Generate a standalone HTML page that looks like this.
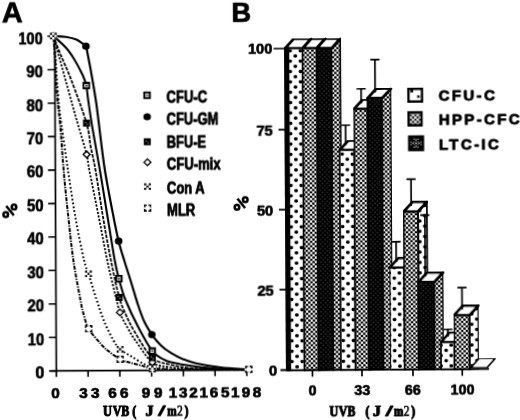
<!DOCTYPE html>
<html><head><meta charset="utf-8"><title>UVB dose response</title>
<style>html,body{margin:0;padding:0;background:#fff;}svg{display:block;}text{font-family:"Liberation Sans",sans-serif;font-weight:bold;fill:#000;stroke:#000;stroke-width:0.45px;stroke-linejoin:round;}.mono{font-family:"Liberation Mono",monospace;font-weight:bold;}</style></head><body>
<svg width="520" height="420" viewBox="0 0 520 420">
<defs>
<pattern id="dots" patternUnits="userSpaceOnUse" x="-1.91" y="3.70" width="10.28" height="10.36"><rect width="10.28" height="10.36" fill="#fff"/><rect x="3.34" y="3.43" width="3.6" height="3.5" rx="1.4" fill="#000"/><rect x="-1.80" y="-1.75" width="3.6" height="3.5" rx="1.4" fill="#000"/><rect x="8.48" y="-1.75" width="3.6" height="3.5" rx="1.4" fill="#000"/><rect x="-1.80" y="8.61" width="3.6" height="3.5" rx="1.4" fill="#000"/><rect x="8.48" y="8.61" width="3.6" height="3.5" rx="1.4" fill="#000"/></pattern>
<pattern id="chk" patternUnits="userSpaceOnUse" x="0.98" y="2.90" width="4.56" height="4.5"><rect width="4.56" height="4.5" fill="#fff"/><rect x="-1.22" y="-1.22" width="2.44" height="2.44" rx="0.55" fill="#000"/><rect x="3.34" y="-1.22" width="2.44" height="2.44" rx="0.55" fill="#000"/><rect x="-1.22" y="3.28" width="2.44" height="2.44" rx="0.55" fill="#000"/><rect x="3.34" y="3.28" width="2.44" height="2.44" rx="0.55" fill="#000"/><rect x="1.06" y="1.03" width="2.44" height="2.44" rx="0.55" fill="#000"/></pattern>
<pattern id="dark" patternUnits="userSpaceOnUse" x="1.2" y="0.8" width="4.56" height="4.5"><rect width="4.56" height="4.5" fill="#000"/><rect x="-0.70" y="-0.70" width="1.4" height="1.4" fill="#fff" fill-opacity="0.2"/><rect x="3.86" y="-0.70" width="1.4" height="1.4" fill="#fff" fill-opacity="0.2"/><rect x="-0.70" y="3.80" width="1.4" height="1.4" fill="#fff" fill-opacity="0.2"/><rect x="3.86" y="3.80" width="1.4" height="1.4" fill="#fff" fill-opacity="0.2"/><rect x="1.58" y="1.55" width="1.4" height="1.4" fill="#fff" fill-opacity="0.2"/></pattern>
<filter id="soft" x="-2%" y="-2%" width="104%" height="104%"><feGaussianBlur stdDeviation="0.42"/></filter>
</defs>
<rect width="520" height="420" fill="#fff"/>
<g>
<g id="chartA" transform="rotate(-0.28 100 203)" filter="url(#soft)">
<text x="2.7" y="22.0" font-size="29" style="stroke-width:0.7px">A</text>
<path d="M55.5 35.0 V376.7 M49.5 370.7 H249" stroke="#000" stroke-width="1.7" fill="none"/>
<path d="M48.2 370.70 H55.5 M48.2 337.23 H55.5 M48.2 303.76 H55.5 M48.2 270.29 H55.5 M48.2 236.82 H55.5 M48.2 203.35 H55.5 M48.2 169.88 H55.5 M48.2 136.41 H55.5 M48.2 102.94 H55.5 M48.2 69.47 H55.5 M48.2 36.00 H55.5 M87.25 370.7 V376.7 M119.00 370.7 V376.7 M150.75 370.7 V376.7 M182.50 370.7 V376.7 M214.25 370.7 V376.7 M246.00 370.7 V376.7 " stroke="#000" stroke-width="1.6" fill="none"/>
<text x="34.50" y="378.30" font-size="16" textLength="9.0" lengthAdjust="spacingAndGlyphs" style="stroke-width:0.6px">0</text>
<text x="26.90" y="344.83" font-size="16" textLength="16.6" lengthAdjust="spacingAndGlyphs" style="stroke-width:0.6px">10</text>
<text x="26.90" y="311.36" font-size="16" textLength="16.6" lengthAdjust="spacingAndGlyphs" style="stroke-width:0.6px">20</text>
<text x="26.90" y="277.89" font-size="16" textLength="16.6" lengthAdjust="spacingAndGlyphs" style="stroke-width:0.6px">30</text>
<text x="26.90" y="244.42" font-size="16" textLength="16.6" lengthAdjust="spacingAndGlyphs" style="stroke-width:0.6px">40</text>
<text x="26.90" y="210.95" font-size="16" textLength="16.6" lengthAdjust="spacingAndGlyphs" style="stroke-width:0.6px">50</text>
<text x="26.90" y="177.48" font-size="16" textLength="16.6" lengthAdjust="spacingAndGlyphs" style="stroke-width:0.6px">60</text>
<text x="26.90" y="144.01" font-size="16" textLength="16.6" lengthAdjust="spacingAndGlyphs" style="stroke-width:0.6px">70</text>
<text x="26.90" y="110.54" font-size="16" textLength="16.6" lengthAdjust="spacingAndGlyphs" style="stroke-width:0.6px">80</text>
<text x="26.90" y="77.07" font-size="16" textLength="16.6" lengthAdjust="spacingAndGlyphs" style="stroke-width:0.6px">90</text>
<text x="19.30" y="43.60" font-size="16" textLength="24.2" lengthAdjust="spacingAndGlyphs" style="stroke-width:0.6px">100</text>
<g fill="none" stroke="#000"><circle cx="5.70" cy="214.16" r="2.3" stroke-width="2.5"/><circle cx="14.00" cy="206.66" r="2.3" stroke-width="2.5"/><path d="M6.20 205.46 L13.80 215.06" stroke-width="2.5" stroke-linecap="butt"/></g>
<text x="54.5" y="397.5" font-size="15.4" text-anchor="middle" style="stroke-width:0.7px">0</text>
<text x="82.5" y="397.5" font-size="15.4" text-anchor="middle" style="stroke-width:0.7px">3</text>
<text x="94.2" y="397.5" font-size="15.4" text-anchor="middle" style="stroke-width:0.7px">3</text>
<text x="111.5" y="397.5" font-size="15.4" text-anchor="middle" style="stroke-width:0.7px">6</text>
<text x="123.3" y="397.5" font-size="15.4" text-anchor="middle" style="stroke-width:0.7px">6</text>
<text x="145" y="397.5" font-size="15.4" text-anchor="middle" style="stroke-width:0.7px">9</text>
<text x="157.3" y="397.5" font-size="15.4" text-anchor="middle" style="stroke-width:0.7px">9</text>
<text x="172" y="397.5" font-size="15.4" text-anchor="middle" style="stroke-width:0.7px">1</text>
<text x="182.3" y="397.5" font-size="15.4" text-anchor="middle" style="stroke-width:0.7px">3</text>
<text x="192.5" y="397.5" font-size="15.4" text-anchor="middle" style="stroke-width:0.7px">2</text>
<text x="202.7" y="397.5" font-size="15.4" text-anchor="middle" style="stroke-width:0.7px">1</text>
<text x="213" y="397.5" font-size="15.4" text-anchor="middle" style="stroke-width:0.7px">6</text>
<text x="224.3" y="397.5" font-size="15.4" text-anchor="middle" style="stroke-width:0.7px">5</text>
<text x="234.3" y="397.5" font-size="15.4" text-anchor="middle" style="stroke-width:0.7px">1</text>
<text x="245" y="397.5" font-size="15.4" text-anchor="middle" style="stroke-width:0.7px">9</text>
<text x="256" y="397.5" font-size="15.4" text-anchor="middle" style="stroke-width:0.7px">8</text>
<g font-family="Liberation Serif" font-size="13.6" style="font-family:'Liberation Serif',serif;stroke-width:0.7px"><text x="102.05" y="416.2" textLength="8.9" lengthAdjust="spacingAndGlyphs" style="font-family:'Liberation Serif',serif;stroke-width:1.0px">U</text><text x="111.65" y="416.2" textLength="8.7" lengthAdjust="spacingAndGlyphs" style="font-family:'Liberation Serif',serif;stroke-width:1.0px">V</text><text x="120.30" y="416.2" textLength="8.0" lengthAdjust="spacingAndGlyphs" style="font-family:'Liberation Serif',serif;stroke-width:1.0px">B</text><text x="131.30" y="416.2" textLength="4.0" lengthAdjust="spacingAndGlyphs" style="font-family:'Liberation Serif',serif;stroke-width:1.0px">(</text><text x="144.60" y="416.2" textLength="8.0" lengthAdjust="spacingAndGlyphs" style="font-family:'Liberation Serif',serif;stroke-width:1.0px">J</text><text x="157.40" y="416.2" textLength="6.6" lengthAdjust="spacingAndGlyphs" style="font-family:'Liberation Serif',serif;stroke-width:1.0px">/</text><text x="166.30" y="416.2" textLength="9.4" lengthAdjust="spacingAndGlyphs" style="font-family:'Liberation Serif',serif;stroke-width:1.0px">m</text><text x="176.00" y="416.2" textLength="5.8" lengthAdjust="spacingAndGlyphs" style="font-family:'Liberation Serif',serif;font-weight:normal;stroke-width:0.6px">2</text><text x="183.50" y="416.2" textLength="4.0" lengthAdjust="spacingAndGlyphs" style="font-family:'Liberation Serif',serif;stroke-width:1.0px">)</text></g>
<path d="M54.2 35.8 C54.5 39.8 55.4 52.6 55.8 60.0 C56.2 67.4 56.0 72.5 56.5 80.0 C57.0 87.5 57.8 97.5 58.5 105.0 C59.2 112.5 59.7 114.2 60.6 125.0 C61.5 135.8 62.5 154.5 63.8 170.0 C65.0 185.5 66.8 203.0 68.4 218.0 C70.0 233.0 71.2 246.3 73.1 260.0 C75.0 273.7 78.4 291.3 80.0 300.0 C81.6 308.7 81.2 307.2 82.5 312.0 C83.8 316.8 85.2 323.5 88.1 328.8 C91.0 334.0 96.8 340.0 100.0 343.8 C103.2 347.5 104.3 348.4 107.5 351.0 C110.7 353.6 115.7 357.4 119.4 359.4 C123.2 361.4 126.2 361.9 130.0 363.0 C133.8 364.1 138.9 365.3 142.5 366.2 C146.1 367.2 145.2 367.8 151.5 368.5 C157.8 369.2 164.1 369.9 180.0 370.2 C195.9 370.5 235.8 370.3 247.0 370.3" stroke="#000" stroke-width="2.0" fill="none" stroke-dasharray="4 1.2 1.3 1.2"/>
<path d="M54.2 35.8 C54.6 39.8 56.0 52.6 56.5 60.0 C57.0 67.4 57.0 72.5 57.5 80.0 C58.0 87.5 58.8 97.5 59.5 105.0 C60.2 112.5 60.5 114.2 61.9 125.0 C63.3 135.8 65.9 154.7 68.1 170.0 C70.3 185.3 72.7 202.0 75.3 217.0 C77.9 232.0 81.6 250.5 83.8 260.0 C85.9 269.5 86.0 267.1 88.1 273.8 C90.2 280.4 93.6 292.0 96.2 300.0 C98.9 308.0 101.0 315.2 103.8 321.9 C106.5 328.6 109.9 335.4 112.5 340.0 C115.1 344.6 116.5 346.7 119.4 349.4 C122.3 352.1 126.2 353.9 130.0 356.2 C133.8 358.6 138.9 362.0 142.5 363.8 C146.1 365.5 145.2 366.0 151.5 367.0 C157.8 368.0 164.1 369.4 180.0 370.0 C195.9 370.6 235.8 370.2 247.0 370.3" stroke="#000" stroke-width="1.95" fill="none" stroke-dasharray="1.7 2.2"/>
<path d="M54.2 35.8 C55.2 39.3 58.0 49.6 60.0 57.0 C62.0 64.4 64.1 72.0 66.2 80.0 C68.4 88.0 70.9 97.5 72.9 105.0 C74.9 112.5 76.2 116.8 78.5 125.0 C80.8 133.2 85.1 146.9 86.9 154.4 C88.7 161.9 87.4 159.4 89.4 170.0 C91.4 180.6 96.0 203.0 98.9 218.0 C101.8 233.0 104.6 248.5 106.9 260.0 C109.2 271.5 110.9 278.2 113.0 287.0 C115.1 295.8 117.0 305.5 119.4 312.5 C121.8 319.5 124.9 324.0 127.5 328.8 C130.1 333.5 131.0 335.4 135.0 341.0 C139.0 346.6 145.7 358.1 151.5 362.5 C157.3 366.9 162.8 366.3 170.0 367.5 C177.2 368.7 182.2 369.0 195.0 369.5 C207.8 370.0 238.3 370.2 247.0 370.3" stroke="#000" stroke-width="1.75" fill="none" stroke-dasharray="2.2 1.5"/>
<path d="M54.2 35.8 C55.5 39.2 59.0 48.6 62.0 56.0 C65.0 63.4 67.8 68.8 71.9 80.0 C76.1 91.2 83.7 111.9 86.9 123.1 C90.1 134.3 89.5 139.2 91.0 147.0 C92.5 154.8 93.6 158.2 95.6 170.0 C97.6 181.8 100.6 203.0 103.1 218.0 C105.6 233.0 108.0 246.8 110.6 260.0 C113.2 273.2 116.3 288.5 118.8 297.5 C121.2 306.5 122.5 308.2 125.0 314.0 C127.5 319.8 129.6 324.7 134.0 332.0 C138.4 339.3 145.5 352.5 151.5 358.0 C157.5 363.5 162.8 363.2 170.0 365.0 C177.2 366.8 182.2 368.1 195.0 369.0 C207.8 369.9 238.3 370.1 247.0 370.3" stroke="#000" stroke-width="1.75" fill="none" stroke-dasharray="3.6 1.2"/>
<path d="M54.2 35.8 C56.3 37.8 63.2 43.6 66.7 47.5 C70.2 51.4 72.2 54.6 75.0 59.2 C77.8 63.8 81.3 70.6 83.3 75.0 C85.3 79.4 86.0 81.4 86.9 85.6 C87.8 89.8 87.7 92.9 88.7 100.0 C89.7 107.1 90.9 116.3 92.8 128.0 C94.7 139.7 97.6 155.5 100.0 170.0 C102.4 184.5 104.8 200.0 107.2 215.0 C109.7 230.0 112.5 249.4 114.4 260.0 C116.3 270.6 116.7 272.1 118.5 278.8 C120.3 285.4 121.8 292.0 125.0 300.0 C128.2 308.0 133.1 318.5 137.5 327.0 C141.9 335.5 147.5 346.0 151.5 351.2 C155.5 356.5 158.2 356.9 161.2 358.8 C164.3 360.6 164.4 361.1 170.0 362.5 C175.6 363.9 186.7 365.8 195.0 367.0 C203.3 368.2 211.3 368.9 220.0 369.5 C228.7 370.1 242.5 370.2 247.0 370.3" stroke="#000" stroke-width="2.05" fill="none"/>
<path d="M54.2 35.8 C56.3 35.9 63.0 36.1 66.7 36.7 C70.5 37.3 73.9 38.1 76.7 39.2 C79.5 40.3 81.6 42.1 83.3 43.3 C85.0 44.5 85.7 43.7 86.7 46.2 C87.7 48.7 88.1 52.7 89.2 58.3 C90.3 63.9 91.8 72.2 93.1 80.0 C94.4 87.8 96.0 97.5 97.0 105.0 C98.0 112.5 98.1 114.2 99.4 125.0 C100.7 135.8 102.7 155.0 105.0 170.0 C107.3 185.0 110.8 203.1 113.1 215.0 C115.3 226.9 116.7 233.8 118.5 241.2 C120.3 248.8 121.8 253.5 123.8 260.0 C125.7 266.5 127.7 272.5 130.0 280.0 C132.3 287.5 135.2 297.9 137.5 305.0 C139.8 312.1 141.7 317.5 144.0 322.5 C146.3 327.5 148.6 330.9 151.2 334.8 C153.9 338.6 156.9 342.4 160.0 345.5 C163.1 348.6 166.3 350.9 170.0 353.2 C173.7 355.5 177.8 357.8 182.0 359.5 C186.2 361.2 188.7 362.3 195.0 363.7 C201.3 365.1 211.3 366.9 220.0 368.0 C228.7 369.1 242.5 369.9 247.0 370.3" stroke="#000" stroke-width="2.15" fill="none"/>
<rect x="85.2" y="325.9" width="5.8" height="5.6" fill="#fff" stroke="#000" stroke-width="1.6"/><rect x="87.3" y="324.8" width="1.6" height="8" fill="#fff"/><rect x="84.1" y="327.9" width="8" height="1.6" fill="#fff"/><rect x="116.5" y="356.6" width="5.8" height="5.6" fill="#fff" stroke="#000" stroke-width="1.6"/><rect x="118.6" y="355.4" width="1.6" height="8" fill="#fff"/><rect x="115.4" y="358.6" width="8" height="1.6" fill="#fff"/><rect x="148.6" y="366.2" width="5.8" height="5.6" fill="#fff" stroke="#000" stroke-width="1.6"/><rect x="150.7" y="365.0" width="1.6" height="8" fill="#fff"/><rect x="147.5" y="368.2" width="8" height="1.6" fill="#fff"/><rect x="84.7" y="270.4" width="6.8" height="6.6" fill="#fff"/><rect x="84.65" y="270.45" width="2.3" height="2.2" fill="#000"/><rect x="84.65" y="274.85" width="2.3" height="2.2" fill="#000"/><rect x="86.95" y="272.65" width="2.3" height="2.2" fill="#000"/><rect x="89.25" y="270.45" width="2.3" height="2.2" fill="#000"/><rect x="89.25" y="274.85" width="2.3" height="2.2" fill="#000"/><rect x="116.0" y="346.1" width="6.8" height="6.6" fill="#fff"/><rect x="115.95" y="346.10" width="2.3" height="2.2" fill="#000"/><rect x="115.95" y="350.50" width="2.3" height="2.2" fill="#000"/><rect x="118.25" y="348.30" width="2.3" height="2.2" fill="#000"/><rect x="120.55" y="346.10" width="2.3" height="2.2" fill="#000"/><rect x="120.55" y="350.50" width="2.3" height="2.2" fill="#000"/><rect x="148.1" y="363.7" width="6.8" height="6.6" fill="#fff"/><rect x="148.05" y="363.70" width="2.3" height="2.2" fill="#000"/><rect x="148.05" y="368.10" width="2.3" height="2.2" fill="#000"/><rect x="150.35" y="365.90" width="2.3" height="2.2" fill="#000"/><rect x="152.65" y="363.70" width="2.3" height="2.2" fill="#000"/><rect x="152.65" y="368.10" width="2.3" height="2.2" fill="#000"/><path d="M83.6 154.4 L86.9 151.1 L90.2 154.4 L86.9 157.7 Z" fill="#fff" stroke="#000" stroke-width="1.5"/><path d="M116.1 312.5 L119.4 309.2 L122.7 312.5 L119.4 315.8 Z" fill="#fff" stroke="#000" stroke-width="1.5"/><path d="M148.2 362.5 L151.5 359.2 L154.8 362.5 L151.5 365.8 Z" fill="#fff" stroke="#000" stroke-width="1.5"/><rect x="83.4" y="119.6" width="7" height="7" fill="#000"/><rect x="85.5" y="121.9" width="1.1" height="1" fill="#fff" fill-opacity=".55"/><rect x="87.4" y="123.5" width="1.1" height="1" fill="#fff" fill-opacity=".55"/><rect x="115.2" y="294.0" width="7" height="7" fill="#000"/><rect x="117.3" y="296.3" width="1.1" height="1" fill="#fff" fill-opacity=".55"/><rect x="119.2" y="297.9" width="1.1" height="1" fill="#fff" fill-opacity=".55"/><rect x="148.0" y="354.5" width="7" height="7" fill="#000"/><rect x="150.1" y="356.8" width="1.1" height="1" fill="#fff" fill-opacity=".55"/><rect x="152.0" y="358.4" width="1.1" height="1" fill="#fff" fill-opacity=".55"/><rect x="84.2" y="82.9" width="5.4" height="5.4" fill="#fff" stroke="#000" stroke-width="2.1"/><rect x="86.0" y="84.7" width="1.8" height="1.8" fill="#000"/><rect x="115.8" y="276.1" width="5.4" height="5.4" fill="#fff" stroke="#000" stroke-width="2.1"/><rect x="117.6" y="277.9" width="1.8" height="1.8" fill="#000"/><rect x="148.8" y="348.6" width="5.4" height="5.4" fill="#fff" stroke="#000" stroke-width="2.1"/><rect x="150.6" y="350.4" width="1.8" height="1.8" fill="#000"/><ellipse cx="86.7" cy="46.2" rx="3.8" ry="3.6" fill="#000"/><ellipse cx="118.5" cy="241.2" rx="3.8" ry="3.6" fill="#000"/><ellipse cx="151.2" cy="334.8" rx="3.8" ry="3.6" fill="#000"/><path d="M50.9 35.8 L54.2 32.5 L57.5 35.8 L54.2 39.1 Z" fill="#fff" stroke="#000" stroke-width="1.5"/><rect x="50.8" y="32.5" width="6.8" height="6.6" fill="#fff"/><rect x="50.75" y="32.50" width="2.3" height="2.2" fill="#000"/><rect x="50.75" y="36.90" width="2.3" height="2.2" fill="#000"/><rect x="53.05" y="34.70" width="2.3" height="2.2" fill="#000"/><rect x="55.35" y="32.50" width="2.3" height="2.2" fill="#000"/><rect x="55.35" y="36.90" width="2.3" height="2.2" fill="#000"/><rect x="245.1" y="367.4" width="5.8" height="5.6" fill="#fff" stroke="#000" stroke-width="1.6"/><rect x="247.2" y="366.2" width="1.6" height="8" fill="#fff"/><rect x="244.0" y="369.4" width="8" height="1.6" fill="#fff"/>
<rect x="144.9" y="92.8" width="5.4" height="5.4" fill="#fff" stroke="#000" stroke-width="2.1"/><rect x="146.7" y="94.6" width="1.8" height="1.8" fill="#000"/>
<text x="167.10000000000002" y="102.6" font-size="16" textLength="40.6" lengthAdjust="spacingAndGlyphs" style="stroke-width:0.85px">CFU-C</text>
<ellipse cx="147.6" cy="117.0" rx="3.8" ry="3.6" fill="#000"/>
<text x="167.10000000000002" y="125" font-size="16" textLength="51.6" lengthAdjust="spacingAndGlyphs" style="stroke-width:0.85px">CFU-GM</text>
<rect x="144.1" y="138.5" width="7" height="7" fill="#000"/><rect x="146.2" y="140.8" width="1.1" height="1" fill="#fff" fill-opacity=".55"/><rect x="148.1" y="142.4" width="1.1" height="1" fill="#fff" fill-opacity=".55"/>
<text x="167.10000000000002" y="147.8" font-size="16" textLength="39.1" lengthAdjust="spacingAndGlyphs" style="stroke-width:0.85px">BFU-E</text>
<path d="M144.3 162.5 L147.6 159.2 L150.9 162.5 L147.6 165.8 Z" fill="#fff" stroke="#000" stroke-width="1.5"/>
<text x="167.10000000000002" y="170.3" font-size="16" textLength="53.6" lengthAdjust="spacingAndGlyphs" style="stroke-width:0.85px">CFU-mix</text>
<rect x="144.2" y="183.5" width="6.8" height="6.6" fill="#fff"/><rect x="144.15" y="183.50" width="2.3" height="2.2" fill="#000"/><rect x="144.15" y="187.90" width="2.3" height="2.2" fill="#000"/><rect x="146.45" y="185.70" width="2.3" height="2.2" fill="#000"/><rect x="148.75" y="183.50" width="2.3" height="2.2" fill="#000"/><rect x="148.75" y="187.90" width="2.3" height="2.2" fill="#000"/>
<text x="167.10000000000002" y="194.2" font-size="16" textLength="37.6" lengthAdjust="spacingAndGlyphs" style="stroke-width:0.85px">Con A</text>
<rect x="144.7" y="205.5" width="5.8" height="5.6" fill="#fff" stroke="#000" stroke-width="1.6"/><rect x="146.8" y="204.3" width="1.6" height="8" fill="#fff"/><rect x="143.6" y="207.5" width="8" height="1.6" fill="#fff"/>
<text x="167.10000000000002" y="216.2" font-size="16" textLength="28.1" lengthAdjust="spacingAndGlyphs" style="stroke-width:0.85px">MLR</text>
</g>
<g id="chartB" transform="rotate(-0.34 380 210)">
<g filter="url(#soft)">
<text x="232.4" y="21.0" font-size="27.4" style="stroke-width:0.7px">B</text>
<text x="249.00" y="53.30" font-size="14.3" textLength="24.2" lengthAdjust="spacingAndGlyphs" style="stroke-width:0.65px">100</text>
<text x="256.90" y="134.50" font-size="14.3" textLength="16.3" lengthAdjust="spacingAndGlyphs" style="stroke-width:0.65px">75</text>
<text x="256.90" y="214.50" font-size="14.3" textLength="16.3" lengthAdjust="spacingAndGlyphs" style="stroke-width:0.65px">50</text>
<text x="256.90" y="294.50" font-size="14.3" textLength="16.3" lengthAdjust="spacingAndGlyphs" style="stroke-width:0.65px">25</text>
<text x="268.00" y="374.80" font-size="14.3" textLength="8.2" lengthAdjust="spacingAndGlyphs" style="stroke-width:0.65px">0</text>
<path d="M274.5 48 H286 M279 129.2 H286 M279 209.2 H286 M279 289.2 H286" stroke="#000" stroke-width="1.7" fill="none"/>
<g fill="none" stroke="#000"><circle cx="237.00" cy="206.40" r="2.3" stroke-width="2.5"/><circle cx="245.30" cy="198.90" r="2.3" stroke-width="2.5"/><path d="M237.50 197.70 L245.10 207.30" stroke-width="2.5" stroke-linecap="butt"/></g>
<path d="M279.5 369.5 H488" stroke="#000" stroke-width="2" fill="none"/>
<path d="M311.5 369.5 V376.3 M361 369.5 V376.3 M412 369.5 V376.3 M461.3 369.5 V376.3" stroke="#000" stroke-width="1.7" fill="none"/>
<text x="311.5" y="394.5" font-size="14.3" text-anchor="middle" style="stroke-width:0.65px">0</text>
<text x="361.3" y="394.5" font-size="14.3" text-anchor="middle" style="stroke-width:0.65px">33</text>
<text x="411.7" y="394.5" font-size="14.3" text-anchor="middle" style="stroke-width:0.65px">66</text>
<text x="461.5" y="394.5" font-size="14.3" text-anchor="middle" style="stroke-width:0.65px">100</text>
<g font-family="Liberation Serif" font-size="13.6" style="font-family:'Liberation Serif',serif;stroke-width:0.7px"><text x="328.35" y="416.2" textLength="8.9" lengthAdjust="spacingAndGlyphs" style="font-family:'Liberation Serif',serif;stroke-width:1.0px">U</text><text x="337.45" y="416.2" textLength="8.7" lengthAdjust="spacingAndGlyphs" style="font-family:'Liberation Serif',serif;stroke-width:1.0px">V</text><text x="346.30" y="416.2" textLength="8.0" lengthAdjust="spacingAndGlyphs" style="font-family:'Liberation Serif',serif;stroke-width:1.0px">B</text><text x="364.20" y="416.2" textLength="4.0" lengthAdjust="spacingAndGlyphs" style="font-family:'Liberation Serif',serif;stroke-width:1.0px">(</text><text x="371.70" y="416.2" textLength="8.0" lengthAdjust="spacingAndGlyphs" style="font-family:'Liberation Serif',serif;stroke-width:1.0px">J</text><text x="384.70" y="416.2" textLength="6.6" lengthAdjust="spacingAndGlyphs" style="font-family:'Liberation Serif',serif;stroke-width:1.0px">/</text><text x="392.70" y="416.2" textLength="9.4" lengthAdjust="spacingAndGlyphs" style="font-family:'Liberation Serif',serif;stroke-width:1.0px">m</text><text x="402.50" y="416.2" textLength="5.8" lengthAdjust="spacingAndGlyphs" style="font-family:'Liberation Serif',serif;font-weight:normal;stroke-width:0.6px">2</text><text x="410.10" y="416.2" textLength="4.0" lengthAdjust="spacingAndGlyphs" style="font-family:'Liberation Serif',serif;stroke-width:1.0px">)</text></g>
</g>
<path d="M303.5 48.0 L312.5 38.3 V369.0 L303.5 369.5 Z" fill="#fff"/><path d="M303.5 48.0 L312.5 38.3 V369.0 L303.5 369.5 Z" fill="none" stroke="#000" stroke-width="1.7" stroke-linejoin="round" filter="url(#soft)"/><path d="M285.9 48.0 L294.9 38.3 H312.5 L303.5 48.0 Z" fill="#fff" stroke="#000" stroke-width="2.8" stroke-linejoin="round" filter="url(#soft)"/><path d="M285.9 48.0 H303.5 V369.5 H285.9 Z" fill="url(#dots)"/><path d="M285.9 48.0 H303.5 V369.5 H285.9 Z" fill="none" stroke="#000" stroke-width="1.7" stroke-linejoin="round" filter="url(#soft)"/>
<path d="M317.6 48.0 L326.6 38.3 V369.0 L317.6 369.5 Z" fill="url(#dots)"/><path d="M317.6 48.0 L326.6 38.3 V369.0 L317.6 369.5 Z" fill="none" stroke="#000" stroke-width="1.7" stroke-linejoin="round" filter="url(#soft)"/><path d="M303.5 48.0 L312.5 38.3 H326.6 L317.6 48.0 Z" fill="#fff" stroke="#000" stroke-width="2.8" stroke-linejoin="round" filter="url(#soft)"/><path d="M303.5 48.0 H317.6 V369.5 H303.5 Z" fill="url(#chk)"/><path d="M303.5 48.0 H317.6 V369.5 H303.5 Z" fill="none" stroke="#000" stroke-width="1.7" stroke-linejoin="round" filter="url(#soft)"/>
<path d="M332.3 48.0 L341.3 38.3 V369.0 L332.3 369.5 Z" fill="url(#chk)"/><path d="M332.3 48.0 L341.3 38.3 V369.0 L332.3 369.5 Z" fill="none" stroke="#000" stroke-width="1.7" stroke-linejoin="round" filter="url(#soft)"/><path d="M317.6 48.0 L326.6 38.3 H341.3 L332.3 48.0 Z" fill="#fff" stroke="#000" stroke-width="2.8" stroke-linejoin="round" filter="url(#soft)"/><path d="M317.6 48.0 H332.3 V369.5 H317.6 Z" fill="url(#dark)"/><path d="M317.6 48.0 H332.3 V369.5 H317.6 Z" fill="none" stroke="#000" stroke-width="1.7" stroke-linejoin="round" filter="url(#soft)"/>
<path d="M354.6 150.0 L363.6 140.3 V369.0 L354.6 369.5 Z" fill="#fff"/><path d="M354.6 150.0 L363.6 140.3 V369.0 L354.6 369.5 Z" fill="none" stroke="#000" stroke-width="1.7" stroke-linejoin="round" filter="url(#soft)"/><path d="M340.0 150.0 L349.0 140.3 H363.6 L354.6 150.0 Z" fill="#fff" stroke="#000" stroke-width="2.8" stroke-linejoin="round" filter="url(#soft)"/><path d="M340.0 150.0 H354.6 V369.5 H340.0 Z" fill="url(#dots)"/><path d="M340.0 150.0 H354.6 V369.5 H340.0 Z" fill="none" stroke="#000" stroke-width="1.7" stroke-linejoin="round" filter="url(#soft)"/><path d="M341.5 125.0 H350.7 M346.1 125.0 V144.2" stroke="#000" stroke-width="1.7" fill="none" filter="url(#soft)"/>
<path d="M368.2 109.0 L377.2 99.3 V369.0 L368.2 369.5 Z" fill="url(#dots)"/><path d="M368.2 109.0 L377.2 99.3 V369.0 L368.2 369.5 Z" fill="none" stroke="#000" stroke-width="1.7" stroke-linejoin="round" filter="url(#soft)"/><path d="M354.6 109.0 L363.6 99.3 H377.2 L368.2 109.0 Z" fill="#fff" stroke="#000" stroke-width="2.8" stroke-linejoin="round" filter="url(#soft)"/><path d="M354.6 109.0 H368.2 V369.5 H354.6 Z" fill="url(#chk)"/><path d="M354.6 109.0 H368.2 V369.5 H354.6 Z" fill="none" stroke="#000" stroke-width="1.7" stroke-linejoin="round" filter="url(#soft)"/><path d="M357.2 88.7 H366.4 M361.8 88.7 V103.2" stroke="#000" stroke-width="1.7" fill="none" filter="url(#soft)"/>
<path d="M382.6 98.2 L391.6 88.5 V369.0 L382.6 369.5 Z" fill="url(#chk)"/><path d="M382.6 98.2 L391.6 88.5 V369.0 L382.6 369.5 Z" fill="none" stroke="#000" stroke-width="1.7" stroke-linejoin="round" filter="url(#soft)"/><path d="M368.2 98.2 L377.2 88.5 H391.6 L382.6 98.2 Z" fill="#fff" stroke="#000" stroke-width="2.8" stroke-linejoin="round" filter="url(#soft)"/><path d="M368.2 98.2 H382.6 V369.5 H368.2 Z" fill="url(#dark)"/><path d="M368.2 98.2 H382.6 V369.5 H368.2 Z" fill="none" stroke="#000" stroke-width="1.7" stroke-linejoin="round" filter="url(#soft)"/><path d="M371.2 59.6 H380.4 M375.8 59.6 V92.4" stroke="#000" stroke-width="1.7" fill="none" filter="url(#soft)"/>
<path d="M403.7 267.8 L412.7 258.1 V369.0 L403.7 369.5 Z" fill="#fff"/><path d="M403.7 267.8 L412.7 258.1 V369.0 L403.7 369.5 Z" fill="none" stroke="#000" stroke-width="1.7" stroke-linejoin="round" filter="url(#soft)"/><path d="M389.3 267.8 L398.3 258.1 H412.7 L403.7 267.8 Z" fill="#fff" stroke="#000" stroke-width="2.8" stroke-linejoin="round" filter="url(#soft)"/><path d="M389.3 267.8 H403.7 V369.5 H389.3 Z" fill="url(#dots)"/><path d="M389.3 267.8 H403.7 V369.5 H389.3 Z" fill="none" stroke="#000" stroke-width="1.7" stroke-linejoin="round" filter="url(#soft)"/><path d="M391.3 241.8 H400.5 M395.9 241.8 V261.9" stroke="#000" stroke-width="1.7" fill="none" filter="url(#soft)"/>
<path d="M417.9 211.8 L426.9 202.10000000000002 V369.0 L417.9 369.5 Z" fill="url(#dots)"/><path d="M417.9 211.8 L426.9 202.10000000000002 V369.0 L417.9 369.5 Z" fill="none" stroke="#000" stroke-width="1.7" stroke-linejoin="round" filter="url(#soft)"/><path d="M403.7 211.8 L412.7 202.10000000000002 H426.9 L417.9 211.8 Z" fill="#fff" stroke="#000" stroke-width="2.8" stroke-linejoin="round" filter="url(#soft)"/><path d="M403.7 211.8 H417.9 V369.5 H403.7 Z" fill="url(#chk)"/><path d="M403.7 211.8 H417.9 V369.5 H403.7 Z" fill="none" stroke="#000" stroke-width="1.7" stroke-linejoin="round" filter="url(#soft)"/><path d="M406.6 179.3 H415.8 M411.2 179.3 V206.0" stroke="#000" stroke-width="1.7" fill="none" filter="url(#soft)"/>
<path d="M433.6 282.5 L442.6 272.8 V369.0 L433.6 369.5 Z" fill="url(#chk)"/><path d="M433.6 282.5 L442.6 272.8 V369.0 L433.6 369.5 Z" fill="none" stroke="#000" stroke-width="1.7" stroke-linejoin="round" filter="url(#soft)"/><path d="M417.9 282.5 L426.9 272.8 H442.6 L433.6 282.5 Z" fill="#fff" stroke="#000" stroke-width="2.8" stroke-linejoin="round" filter="url(#soft)"/><path d="M417.9 282.5 H433.6 V369.5 H417.9 Z" fill="url(#dark)"/><path d="M417.9 282.5 H433.6 V369.5 H417.9 Z" fill="none" stroke="#000" stroke-width="1.7" stroke-linejoin="round" filter="url(#soft)"/><path d="M420.2 215.4 H429.5 M424.9 215.4 V276.6" stroke="#000" stroke-width="1.7" fill="none" filter="url(#soft)"/>
<path d="M453.5 342.6 L462.5 332.90000000000003 V369.0 L453.5 369.5 Z" fill="#fff"/><path d="M453.5 342.6 L462.5 332.90000000000003 V369.0 L453.5 369.5 Z" fill="none" stroke="#000" stroke-width="1.7" stroke-linejoin="round" filter="url(#soft)"/><path d="M440.1 342.6 L449.1 332.90000000000003 H462.5 L453.5 342.6 Z" fill="#fff" stroke="#000" stroke-width="2.8" stroke-linejoin="round" filter="url(#soft)"/><path d="M440.1 342.6 H453.5 V369.5 H440.1 Z" fill="url(#dots)"/><path d="M440.1 342.6 H453.5 V369.5 H440.1 Z" fill="none" stroke="#000" stroke-width="1.7" stroke-linejoin="round" filter="url(#soft)"/><path d="M442.5 329.7 H451.7 M447.1 329.7 V336.8" stroke="#000" stroke-width="1.7" fill="none" filter="url(#soft)"/>
<path d="M468.7 315.8 L477.7 306.1 V369.0 L468.7 369.5 Z" fill="url(#dots)"/><path d="M468.7 315.8 L477.7 306.1 V369.0 L468.7 369.5 Z" fill="none" stroke="#000" stroke-width="1.7" stroke-linejoin="round" filter="url(#soft)"/><path d="M453.5 315.8 L462.5 306.1 H477.7 L468.7 315.8 Z" fill="#fff" stroke="#000" stroke-width="2.8" stroke-linejoin="round" filter="url(#soft)"/><path d="M453.5 315.8 H468.7 V369.5 H453.5 Z" fill="url(#chk)"/><path d="M453.5 315.8 H468.7 V369.5 H453.5 Z" fill="none" stroke="#000" stroke-width="1.7" stroke-linejoin="round" filter="url(#soft)"/><path d="M456.9 288.2 H466.1 M461.5 288.2 V309.9" stroke="#000" stroke-width="1.7" fill="none" filter="url(#soft)"/>
<path d="M469.7 368.3 L478.3 359.2 H494.3 L485.90000000000003 368.3 Z" fill="#fff" stroke="#000" stroke-width="1.7" stroke-linejoin="miter" filter="url(#soft)"/>
<rect x="285.5" y="47.2" width="4.7" height="323.1" fill="#000" filter="url(#soft)"/>
<g filter="url(#soft)">
<rect x="409.2" y="89.2" width="13.4" height="12.5" fill="#fff" stroke="#000" stroke-width="2.5"/>
<rect x="411.2" y="89.5" width="2.7" height="3.4" fill="#000"/><rect x="417.7" y="95.5" width="2.7" height="2.7" fill="#000"/>
<rect x="409.2" y="112.6" width="12.8" height="12.9" fill="url(#chk)" stroke="#000" stroke-width="2.5"/>
<rect x="409.7" y="136.8" width="13.6" height="13.4" fill="#000" stroke="#000" stroke-width="2.5"/>
<rect x="415.95" y="143.00" width="1.1" height="1" fill="#fff" fill-opacity="0.75"/><rect x="412.75" y="143.00" width="1.1" height="1" fill="#fff" fill-opacity="0.75"/><rect x="419.15" y="143.00" width="1.1" height="1" fill="#fff" fill-opacity="0.75"/><rect x="415.95" y="140.30" width="1.1" height="1" fill="#fff" fill-opacity="0.75"/><rect x="415.95" y="145.70" width="1.1" height="1" fill="#fff" fill-opacity="0.75"/><rect x="414.35" y="141.65" width="1.1" height="1" fill="#fff" fill-opacity="0.75"/><rect x="417.55" y="141.65" width="1.1" height="1" fill="#fff" fill-opacity="0.75"/><rect x="414.35" y="144.35" width="1.1" height="1" fill="#fff" fill-opacity="0.75"/><rect x="417.55" y="144.35" width="1.1" height="1" fill="#fff" fill-opacity="0.75"/><rect x="414.35" y="139.00" width="1.1" height="1" fill="#fff" fill-opacity="0.75"/><rect x="417.55" y="139.00" width="1.1" height="1" fill="#fff" fill-opacity="0.75"/><rect x="414.35" y="147.00" width="1.1" height="1" fill="#fff" fill-opacity="0.75"/><rect x="417.55" y="147.00" width="1.1" height="1" fill="#fff" fill-opacity="0.75"/><rect x="411.15" y="141.65" width="1.1" height="1" fill="#fff" fill-opacity="0.75"/><rect x="420.75" y="141.65" width="1.1" height="1" fill="#fff" fill-opacity="0.75"/><rect x="411.15" y="144.35" width="1.1" height="1" fill="#fff" fill-opacity="0.75"/><rect x="420.75" y="144.35" width="1.1" height="1" fill="#fff" fill-opacity="0.75"/>
<text x="439.2" y="100.9" font-size="15.2" textLength="56.5" lengthAdjust="spacing" style="stroke-width:0.8px">CFU-C</text>
<text x="439.2" y="125.4" font-size="15.2" textLength="81" lengthAdjust="spacing" style="stroke-width:0.8px">HPP-CFC</text>
<text x="439.2" y="150.1" font-size="15.2" textLength="60" lengthAdjust="spacing" style="stroke-width:0.8px">LTC-IC</text>
</g>
</g>
</g>
</svg></body></html>
